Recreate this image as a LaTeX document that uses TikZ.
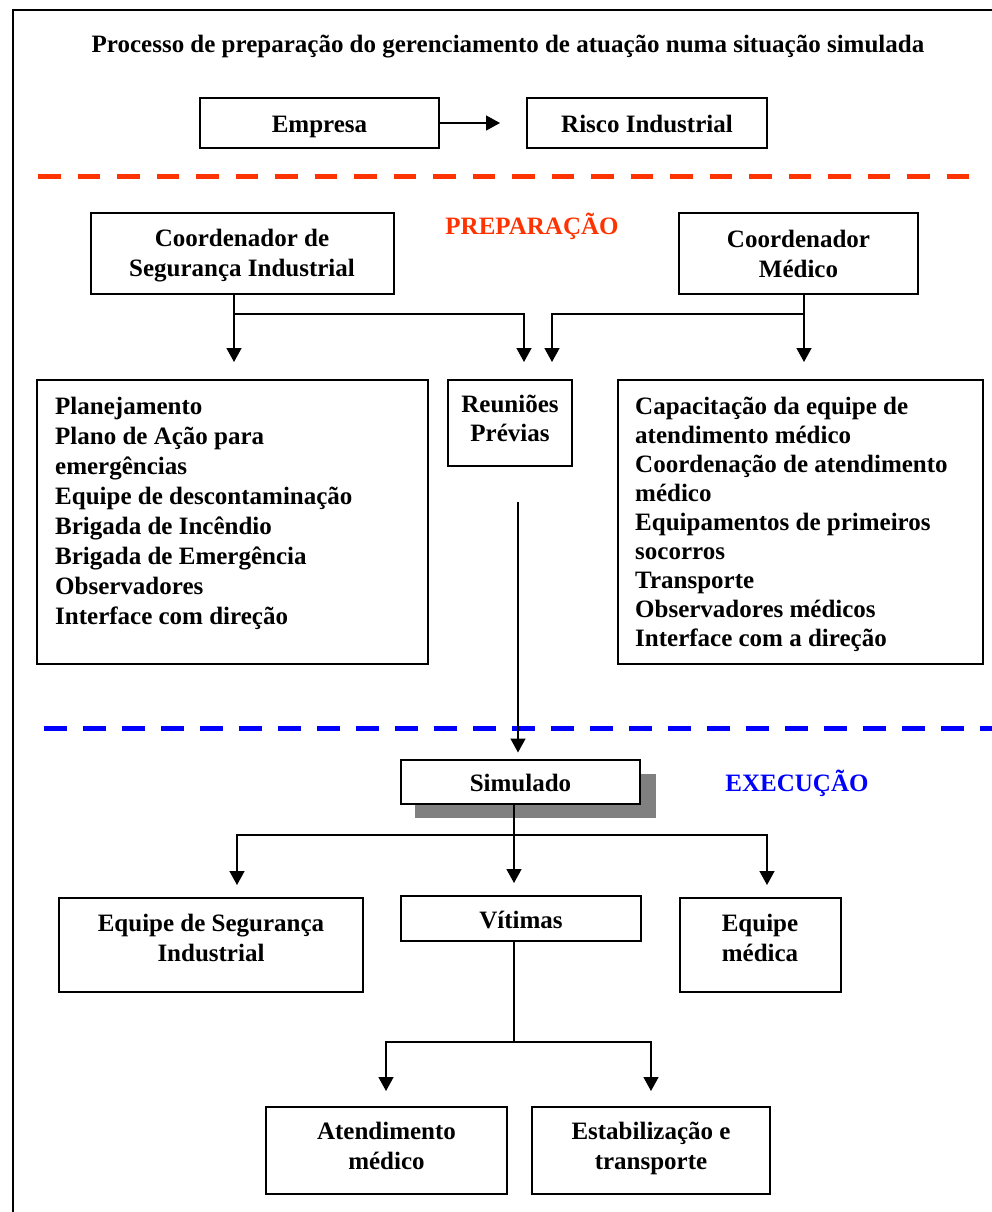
\documentclass[tikz,border=0pt]{standalone}
\usepackage{fontspec}
\setmainfont{Liberation Serif}
\usetikzlibrary{arrows.meta}
\definecolor{redor}{HTML}{FF3300}
\definecolor{blueln}{HTML}{0000FF}
\definecolor{shadowgray}{HTML}{808080}
\begin{document}
\begin{tikzpicture}[x=1pt,y=-1pt,
  box/.style={draw, line width=2pt, inner sep=0pt, align=center, fill=white,
    font=\bfseries\fontsize{25}{30}\selectfont},
  onebox/.style={box, text height=20pt, text depth=1pt},
  listtxt/.style={inner sep=0pt, align=left, anchor=north west,
    font=\bfseries\fontsize{25}{30}\selectfont},
  arr/.style={line width=1.5pt, -{Triangle[length=14pt,width=15pt]}},
  ln/.style={line width=1.5pt},
  sep/.style={line width=5pt, dash pattern=on 22.5pt off 17pt}]
\useasboundingbox (0,0) rectangle (992,1212);
% outer frame
\draw[line width=2.5pt] (13,1212) -- (13,10) -- (992,10);
% title
\node[font=\bfseries\fontsize{25}{30}\selectfont, inner sep=0pt] (title) at (508,47)
  {Processo de preparação do gerenciamento de atuação numa situação simulada};
% top boxes
\node[onebox, minimum width=239pt, minimum height=50pt] (emp) at (319.5,123) {Empresa};
\node[onebox, minimum width=240pt, minimum height=50pt] (risco) at (647,123) {Risco Industrial};
\draw[arr, shorten >=26pt] (emp.east) -- (risco.west);
% red separator
\coordinate (r1) at (38,176);
\coordinate (r2) at (975,176);
\draw[sep, redor] (r1) -- (r2);
\node[font=\bfseries\fontsize{25}{30}\selectfont, text=redor, inner sep=0pt] (prep) at (532,226) {PREPARAÇÃO};
% coordinators
\node[box, minimum width=303pt, minimum height=81pt, text depth=1.5pt] (csi) at (242,253.5) {Coordenador de\\Segurança Industrial};
\node[box, minimum width=239pt, minimum height=81pt] (cmed) at (798.5,253.5) {Coordenador\\Médico};
% second row
\node[box, minimum width=391pt, minimum height=284pt] (plan) at (232.5,522) {};
\node[listtxt] (plantxt) at (55,397) {Planejamento\\Plano de Ação para\\emergências\\Equipe de descontaminação\\Brigada de Incêndio\\Brigada de Emergência\\Observadores\\Interface com direção};
\node[box, minimum width=124pt, minimum height=86pt, text depth=9pt, font=\bfseries\fontsize{25}{29}\selectfont] (reun) at (510,423) {Reuniões\\Prévias};
\node[box, minimum width=365pt, minimum height=284pt] (capac) at (800,522) {};
\node[listtxt, font=\bfseries\fontsize{25}{29}\selectfont] (capactxt) at (635,397) {Capacitação da equipe de\\atendimento médico\\Coordenação de atendimento\\médico\\Equipamentos de primeiros\\socorros\\Transporte\\Observadores médicos\\Interface com a direção};
% junction coordinates
\coordinate (jl) at (234,314);
\coordinate (jl2) at (524,314);
\coordinate (jr) at (804,314);
\coordinate (jr2) at (552,314);
\draw[arr, shorten >=17pt] (csi.south -| jl) -- (plan.north -| jl);
\draw[arr, shorten >=17pt] (jl) -- (jl2) -- (reun.north -| jl2);
\draw[arr, shorten >=17pt] (cmed.south -| jr) -- (capac.north -| jr);
\draw[arr, shorten >=17pt] (jr) -- (jr2) -- (reun.north -| jr2);
% blue separator
\coordinate (b1) at (44,728);
\coordinate (b2) at (992,728);
\draw[sep, blueln, dash pattern=on 23pt off 16pt] (b1) -- (b2);
\node[font=\bfseries\fontsize{25}{30}\selectfont, text=blueln, inner sep=0pt] (exec) at (797,783) {EXECUÇÃO};
% simulado
\fill[shadowgray] (415,774) rectangle (656,818);
\node[onebox, minimum width=239pt, minimum height=44pt] (simul) at (520.5,781.5) {Simulado};
\coordinate (rv) at (518,502);
\draw[arr, shorten >=6pt] (rv) -- (simul.north -| rv);
% third row
\node[box, minimum width=304pt, minimum height=94pt, text depth=15pt] (eqsi) at (211,945) {Equipe de Segurança\\Industrial};
\node[onebox, minimum width=240pt, minimum height=45pt] (vit) at (521,918.5) {Vítimas};
\node[box, minimum width=161pt, minimum height=94pt, text depth=15pt] (eqmed) at (760,945) {Equipe\\médica};
\coordinate (js) at (514,835);
\coordinate (jsl) at (237,835);
\coordinate (jsr) at (767,835);
\draw[ln] (simul.south -| js) -- (js);
\draw[arr, shorten >=12pt] (js) -- (jsl) -- (eqsi.north -| jsl);
\draw[arr, shorten >=12pt] (js) -- (jsr) -- (eqmed.north -| jsr);
\draw[arr, shorten >=12pt] (js) -- (vit.north -| js);
% bottom row
\node[box, minimum width=241pt, minimum height=87pt, text depth=9pt] (atend) at (386.5,1150.5) {Atendimento\\médico};
\node[box, minimum width=238pt, minimum height=87pt, text depth=8.5pt] (estab) at (651,1150.5) {Estabilização e\\transporte};
\coordinate (jv) at (514,1042);
\coordinate (jvl) at (386,1042);
\coordinate (jvr) at (651,1042);
\draw[ln] (vit.south -| jv) -- (jv);
\draw[arr, shorten >=15pt] (jv) -- (jvl) -- (atend.north -| jvl);
\draw[arr, shorten >=15pt] (jv) -- (jvr) -- (estab.north -| jvr);
\end{tikzpicture}
\end{document}
